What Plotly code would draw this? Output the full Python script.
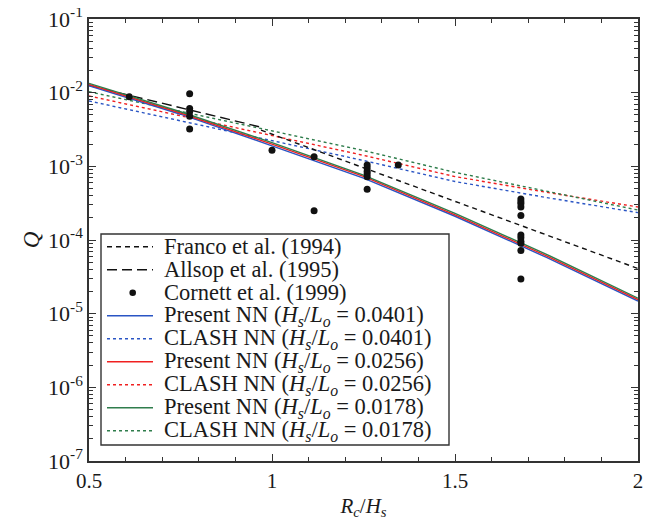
import plotly.graph_objects as go

# ---------------- data ----------------
x_nn = [0.5, 0.75, 1.0, 1.25, 1.5, 1.75, 2.0]
present_0401 = [0.0124, 0.0051, 0.0019, 0.00069, 0.00021, 5.8e-5, 1.48e-5]
present_0256 = [0.0129, 0.0053, 0.0020, 0.00073, 0.00022, 6.1e-5, 1.55e-5]
present_0178 = [0.0134, 0.0055, 0.0021, 0.00076, 0.00023, 6.4e-5, 1.62e-5]
clash_0401 = [0.00771, 0.00417, 0.00226, 0.00120, 6.22e-4, 3.77e-4, 2.35e-4]
clash_0256 = [0.00902, 0.00487, 0.00264, 0.00141, 7.26e-4, 4.44e-4, 2.81e-4]
clash_0178 = [0.0103, 0.00562, 0.00307, 0.00164, 8.28e-4, 4.58e-4, 2.55e-4]

allsop_x = [0.5, 0.97]
allsop_q = [0.0125, 0.0034]
franco_x = [0.97, 2.0]
franco_q = [0.0031, 4.1e-5]

cornett_x = [0.61,
             0.775, 0.775, 0.775, 0.775, 0.775,
             1.0,
             1.115, 1.115,
             1.26, 1.26, 1.26, 1.26, 1.26, 1.26,
             1.345,
             1.68, 1.68, 1.68, 1.68, 1.68, 1.68, 1.68, 1.68, 1.68, 1.68, 1.68]
cornett_q = [0.0088,
             0.0097, 0.0061, 0.0055, 0.0048, 0.0032,
             0.00165,
             0.00135, 0.00025,
             1.04e-3, 9.5e-4, 8.6e-4, 7.9e-4, 7.2e-4, 4.9e-4,
             1.04e-3,
             3.6e-4, 3.3e-4, 3.1e-4, 2.8e-4, 2.15e-4, 1.17e-4, 1.07e-4, 9.6e-5, 9.0e-5, 7.2e-5, 2.95e-5]

x_tickvals = [0.5, 1, 1.5, 2]
x_ticktext = ["0.5", "1", "1.5", "2"]
y_tickvals = [1e-7, 1e-6, 1e-5, 1e-4, 1e-3, 1e-2, 1e-1]
y_ticktext = ["10<sup>-7</sup>", "10<sup>-6</sup>", "10<sup>-5</sup>", "10<sup>-4</sup>",
              "10<sup>-3</sup>", "10<sup>-2</sup>", "10<sup>-1</sup>"]

hl = "<i>H<sub>s</sub></i>/<i>L<sub>o</sub></i>"
legend_labels = ["Franco et al. (1994)", "Allsop et al. (1995)", "Cornett et al. (1999)",
                 f"Present NN ({hl} = 0.0401)", f"CLASH NN ({hl} = 0.0401)",
                 f"Present NN ({hl} = 0.0256)", f"CLASH NN ({hl} = 0.0256)",
                 f"Present NN ({hl} = 0.0178)", f"CLASH NN ({hl} = 0.0178)"]

# ---------------- styles ----------------
BLUE = "#2a55c4"
RED = "#f02020"
GREEN = "#2f7d4c"
BLACK = "#111111"
TEXT = "#1a1a1a"
FONT = "Liberation Serif"
LW = 1.4
DOT = "3px,3px"
FRANCO_DASH = "5px,4px"
ALLSOP_DASH = "10px,5px"

# screen layout (the page body adds an 8px offset)
OFF = 8
SCREEN_W, SCREEN_H = 659, 523
PX0, PX1, PY0, PY1 = 89, 638, 19, 461   # plot area in screen pixels
W, H = SCREEN_W - OFF, SCREEN_H - OFF
L, T = PX0 - OFF, PY0 - OFF
R, B = W - (PX1 - OFF), H - (PY1 - OFF)
PW, PH = PX1 - PX0, PY1 - PY0

fig = go.Figure()

def add_line(x, y, color, dash):
    fig.add_trace(go.Scatter(x=x, y=y, mode="lines", showlegend=False,
                             line=dict(color=color, width=LW, dash=dash)))

add_line(x_nn, clash_0401, BLUE, DOT)
add_line(x_nn, clash_0256, RED, DOT)
add_line(x_nn, clash_0178, GREEN, DOT)
add_line(franco_x, franco_q, BLACK, FRANCO_DASH)
add_line(allsop_x, allsop_q, BLACK, ALLSOP_DASH)
add_line(x_nn, present_0401, BLUE, "solid")
add_line(x_nn, present_0256, RED, "solid")
add_line(x_nn, present_0178, GREEN, "solid")

fig.add_trace(go.Scatter(x=cornett_x, y=cornett_q, mode="markers", showlegend=False,
                         marker=dict(color=BLACK, size=7, line=dict(width=0))))

# ---------------- manual legend (positions in screen pixels) ----------------
def px_x(p):
    return (p - PX0) / PW

def px_y(p):
    return (PY1 - p) / PH

shapes = [dict(type="rect", xref="paper", yref="paper",
               x0=px_x(101), x1=px_x(449), y0=px_y(445), y1=px_y(234),
               line=dict(color="#333333", width=1.4), fillcolor="white", layer="above")]
annotations = []
styles = [(BLACK, FRANCO_DASH), (BLACK, ALLSOP_DASH), None,
          (BLUE, "solid"), (BLUE, DOT), (RED, "solid"), (RED, DOT),
          (GREEN, "solid"), (GREEN, DOT)]
for i, (lab, st) in enumerate(zip(legend_labels, styles)):
    yc = 246.7 + 23 * i
    if st is None:
        r = 3.3
        shapes.append(dict(type="circle", xref="paper", yref="paper",
                           x0=px_x(132.7 - r), x1=px_x(132.7 + r),
                           y0=px_y(yc + r), y1=px_y(yc - r),
                           fillcolor=BLACK, line=dict(width=0), layer="above"))
    else:
        shapes.append(dict(type="line", xref="paper", yref="paper",
                           x0=px_x(107), x1=px_x(153), y0=px_y(yc), y1=px_y(yc),
                           line=dict(color=st[0], width=LW, dash=st[1]), layer="above"))
    annotations.append(dict(text=lab, xref="paper", yref="paper", x=px_x(162), y=px_y(yc),
                            xanchor="left", yanchor="middle", showarrow=False,
                            font=dict(family=FONT, size=22.5, color=TEXT)))

axis_common = dict(showline=True, linecolor="#333333", linewidth=1.5, mirror="allticks",
                   ticks="inside", ticklen=7, tickcolor="#333333", tickwidth=1,
                   showgrid=False, zeroline=False, automargin=False,
                   ticklabeloverflow="allow")

fig.update_layout(
    width=W, height=H,
    margin=dict(l=L, r=R, t=T, b=B),
    paper_bgcolor="white", plot_bgcolor="white",
    showlegend=False,
    shapes=shapes, annotations=annotations,
    xaxis=dict(range=[0.5, 2], tickmode="array", tickvals=x_tickvals, ticktext=x_ticktext,
               tickfont=dict(family=FONT, size=21, color=TEXT),
               minor=dict(ticks="inside", ticklen=4, dtick=0.1, tickcolor="#333333"),
               title=dict(text="<i>R<sub>c</sub></i>/<i>H<sub>s</sub></i>", standoff=6,
                          font=dict(family=FONT, size=21, color=TEXT)),
               **axis_common),
    yaxis=dict(type="log", range=[-7, -1], tickmode="array", tickvals=y_tickvals,
               ticktext=y_ticktext,
               tickfont=dict(family=FONT, size=22, color=TEXT),
               minor=dict(ticks="inside", ticklen=4, dtick="D1", tickcolor="#333333"),
               title=dict(text="<i>Q</i>", standoff=2,
                          font=dict(family=FONT, size=23, color=TEXT)),
               **axis_common),
)

fig.write_html("out.html")
